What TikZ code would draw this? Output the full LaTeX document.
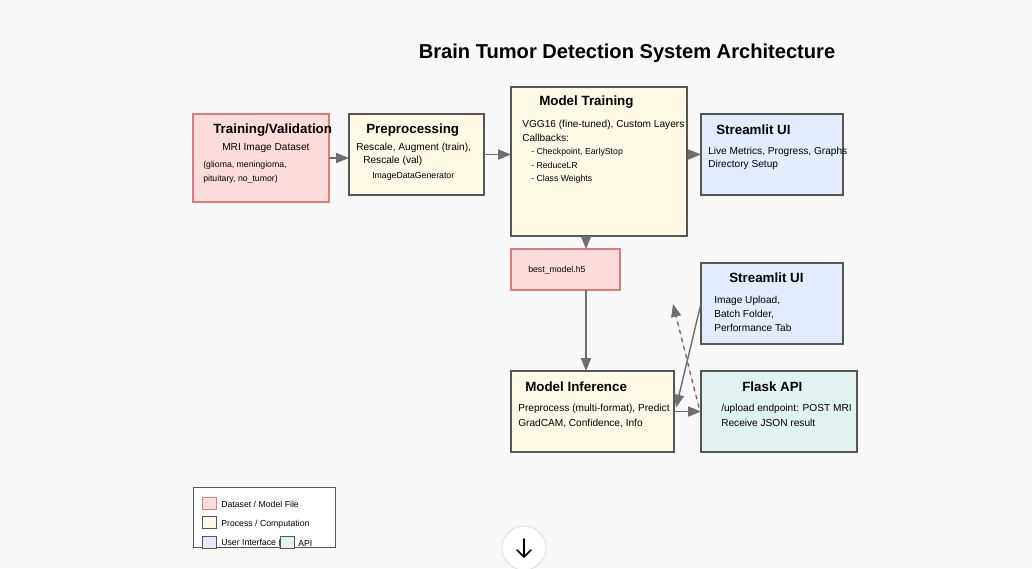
\documentclass[tikz,border=0pt]{standalone}
\usepackage{fontspec}
\setmainfont{Liberation Sans}
\usetikzlibrary{arrows.meta}
\definecolor{bgcol}{HTML}{F8F8F8}
\definecolor{datafill}{HTML}{FFDCDC}
\definecolor{dataline}{HTML}{E07B7B}
\definecolor{procfill}{HTML}{FFF9E6}
\definecolor{uifill}{HTML}{E3ECFC}
\definecolor{apifill}{HTML}{E0F2F1}
\definecolor{boxline}{HTML}{555555}
\definecolor{flowcol}{HTML}{6E6E6E}
\begin{document}
\begin{tikzpicture}[
  x=0.025cm, y=-0.025cm,
  box/.style={draw=boxline, line width=1pt, inner sep=0pt, outer sep=0pt},
  databox/.style={box, draw=dataline, fill=datafill},
  procbox/.style={box, fill=procfill},
  uibox/.style={box, fill=uifill},
  apibox/.style={box, fill=apifill},
  head/.style={anchor=west, inner sep=0pt, font=\fontsize{9.5}{11}\selectfont\bfseries},
  body/.style={anchor=west, inner sep=0pt, font=\fontsize{7.2}{8.6}\selectfont},
  small/.style={anchor=west, inner sep=0pt, font=\fontsize{6.2}{7.4}\selectfont},
  flow/.style={draw=flowcol, line width=1pt,
               -{Triangle[length=0.32cm, width=0.25cm]}, fill=flowcol},
  swatch/.style={box, line width=0.7pt, minimum width=0.33cm, minimum height=0.3cm}
]
\fill[bgcol] (0,0) rectangle (1032,568);
\clip (0,0) rectangle (1032,568);

\node[inner sep=0pt, font=\fontsize{14.3}{17}\selectfont\bfseries] (title) at (627,53)
  {Brain Tumor Detection System Architecture};

% boxes
\node[databox, minimum width=3.4cm, minimum height=2.2cm] (data) at (261,158) {};
\node[procbox, minimum width=3.375cm, minimum height=2.025cm] (prep) at (416.5,154.5) {};
\node[procbox, minimum width=4.4cm, minimum height=3.725cm] (train) at (599,161.5) {};
\node[uibox, minimum width=3.55cm, minimum height=2.025cm] (uitrain) at (772,154.5) {};
\node[databox, minimum width=2.725cm, minimum height=1.025cm] (model) at (565.5,269.5) {};
\node[uibox, minimum width=3.55cm, minimum height=2.025cm] (uiinfer) at (772,303.5) {};
\node[procbox, minimum width=4.075cm, minimum height=2.025cm] (infer) at (592.5,411.5) {};
\node[apibox, minimum width=3.9cm, minimum height=2.025cm] (flask) at (779,411.5) {};

% texts
\node[head] (dataT) at (213,130) {Training/Validation};
\node[body] (dataA) at (222,148) {MRI Image Dataset};
\node[small] (dataB) at (203,165) {(glioma, meningioma,};
\node[small] (dataC) at (203,179) {pituitary, no\_tumor)};

\node[head] (prepT) at (366,130) {Preprocessing};
\node[body] (prepA) at (356,148) {Rescale, Augment (train),};
\node[body] (prepB) at (363,161) {Rescale (val)};
\node[small] (prepC) at (372,176) {ImageDataGenerator};

\node[head] (trainT) at (539,102) {Model Training};
\node[body] (trainA) at (522,125) {VGG16 (fine-tuned), Custom Layers};
\node[body] (trainB) at (522,138) {Callbacks:};
\node[small] (trainC) at (531,152) {- Checkpoint, EarlyStop};
\node[small] (trainD) at (531,165) {- ReduceLR};
\node[small] (trainE) at (531,179) {- Class Weights};

\node[head] (uitrainT) at (716,130) {Streamlit UI};
\node[body] (uitrainA) at (708,152) {Live Metrics, Progress, Graphs};
\node[body] (uitrainB) at (708,165) {Directory Setup};

\node[small] (modelT) at (528,270) {best\_model.h5};

\node[head] (uiinferT) at (729,278) {Streamlit UI};
\node[body] (uiinferA) at (714,301) {Image Upload,};
\node[body] (uiinferB) at (714,314) {Batch Folder,};
\node[body] (uiinferC) at (714,328) {Performance Tab};

\node[head] (inferT) at (525,387) {Model Inference};
\node[body] (inferA) at (518,409) {Preprocess (multi-format), Predict};
\node[body] (inferB) at (518,423) {GradCAM, Confidence, Info};

\node[head] (flaskT) at (742,387) {Flask API};
\node[body] (flaskA) at (721,409) {/upload endpoint: POST MRI};
\node[body] (flaskB) at (721,423) {Receive JSON result};

% connectors
\coordinate (axis) at (586,0);
\coordinate (dashtip) at (673,304);
\draw[flow] (data.east) -- (prep.west |- data.east);
\draw[flow] (prep.east) -- (train.west |- prep.east);
\draw[flow] (train.east |- uitrain.west) -- (uitrain.west);
\draw[flow] (train.south -| axis) -- (model.north -| axis);
\draw[flow] (model.south -| axis) -- (infer.north -| axis);
\draw[flow] (infer.east) -- (flask.west |- infer.east);
\draw[flow] (uiinfer.west) -- ([shift={(2,-4)}]infer.east);
\draw[flow, dashed] ([shift={(-2,-4)}]flask.west) -- (dashtip);

% legend
\node[draw=boxline, fill=white, line width=0.6pt, inner sep=0pt,
      minimum width=3.55cm, minimum height=1.5cm] (legend) at (264,517) {};
\node[swatch, draw=dataline, fill=datafill] (swData) at (209.5,503) {};
\node[swatch, fill=procfill] (swProc) at (209.5,522) {};
\node[swatch, fill=uifill] (swUI) at (209.5,542) {};
\node[small] (lgData) at (221,504) {Dataset / Model File};
\node[small] (lgProc) at (221,524) {Process / Computation};
\node[small] (lgUI) at (221,543) {User Interface (};
\node[swatch, fill=apifill] (swAPI) at (287.5,542) {};
\node[small] (lgAPI) at (298,543) {API};

% scroll button
\node[circle, draw=black!12, fill=white, line width=0.6pt,
      minimum size=1.1cm, inner sep=0pt] (scroll) at (524,548) {};
\draw[line width=1.1pt, line cap=round, line join=round]
  (524,539) -- (524,557) (517,550) -- (524,557) -- (531,550);
\end{tikzpicture}
\end{document}
